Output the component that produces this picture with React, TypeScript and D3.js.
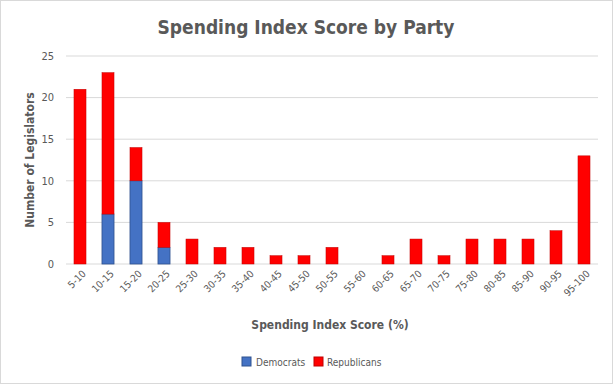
import * as d3 from "d3";

const ranges = ["5-10", "10-15", "15-20", "20-25", "25-30", "30-35", "35-40", "40-45", "45-50", "50-55",
    "55-60", "60-65", "65-70", "70-75", "75-80", "80-85", "85-90", "90-95", "95-100"];
const democrats = [0, 6, 10, 2, 0, 0, 0, 0, 0, 0, 0, 0, 0, 0, 0, 0, 0, 0, 0];
const republicans = [21, 17, 4, 3, 3, 2, 2, 1, 1, 2, 0, 1, 3, 1, 3, 3, 3, 4, 13];
const yTicks = [0, 5, 10, 15, 20, 25];

const width = 613, height = 384;
const margin = { top: 56, right: 15, bottom: 120, left: 66 };
const font = "'DejaVu Sans Condensed', 'DejaVu Sans', sans-serif";

const App = () => {
    const x = d3.scaleBand().domain(ranges).range([margin.left, width - margin.right]).paddingInner(0.57).paddingOuter(0.285);
    const y = d3.scaleLinear().domain([0, 25]).range([height - margin.bottom, margin.top]);

    const rows = ranges.map((r, i) => ({ r, dem: democrats[i], rep: republicans[i] }));

    return (
        <svg width={width} height={height} style={{ position: "absolute", left: 0, top: 0, fontFamily: font }}>
            <rect x={0.5} y={0.5} width={width - 1} height={height - 1} fill="#fff" stroke="#d9d9d9" />
            <text x={306} y={34} textAnchor="middle" fontSize={19} fontWeight="bold" fill="#595959">
                Spending Index Score by Party
            </text>
            {yTicks.map((t) => (
                <g key={t}>
                    <line x1={margin.left} x2={width - margin.right} y1={y(t)} y2={y(t)} stroke="#d9d9d9" strokeWidth={1} />
                    <text x={54} y={y(t)} dy="0.35em" textAnchor="end" fontSize={11} fill="#595959">{t}</text>
                </g>
            ))}
            {rows.map((d) => (
                <g key={d.r}>
                    {d.dem > 0 && (
                        <rect x={x(d.r)} y={y(d.dem)} width={x.bandwidth()} height={y(0) - y(d.dem)}
                            fill="#4472C4" stroke="#2F528F" strokeWidth={0.8} />
                    )}
                    {d.rep > 0 && (
                        <rect x={x(d.r)} y={y(d.dem + d.rep)} width={x.bandwidth()} height={y(d.dem) - y(d.dem + d.rep)}
                            fill="#FF0000" stroke="#C00000" strokeWidth={0.5} />
                    )}
                    <text transform={`translate(${(x(d.r) || 0) + x.bandwidth() / 2 + 4},${y(0) + 8}) rotate(-45)`}
                        textAnchor="end" dy="0.35em" fontSize={10} fill="#595959">{d.r}</text>
                </g>
            ))}
            <text transform={`translate(34,${(margin.top + y(0)) / 2}) rotate(-90)`} textAnchor="middle"
                fontSize={12} fontWeight="bold" fill="#595959">Number of Legislators</text>
            <text x={330} y={329} textAnchor="middle" fontSize={12} fontWeight="bold" fill="#595959">
                Spending Index Score  (%)
            </text>
            <rect x={242} y={357} width={9} height={9} fill="#4472C4" stroke="#2F528F" />
            <text x={256} y={362} dy="0.35em" fontSize={10} fill="#595959">Democrats</text>
            <rect x={314} y={357} width={9} height={9} fill="#FF0000" stroke="#C00000" />
            <text x={327} y={362} dy="0.35em" fontSize={10} fill="#595959">Republicans</text>
        </svg>
    );
};

export default App;
